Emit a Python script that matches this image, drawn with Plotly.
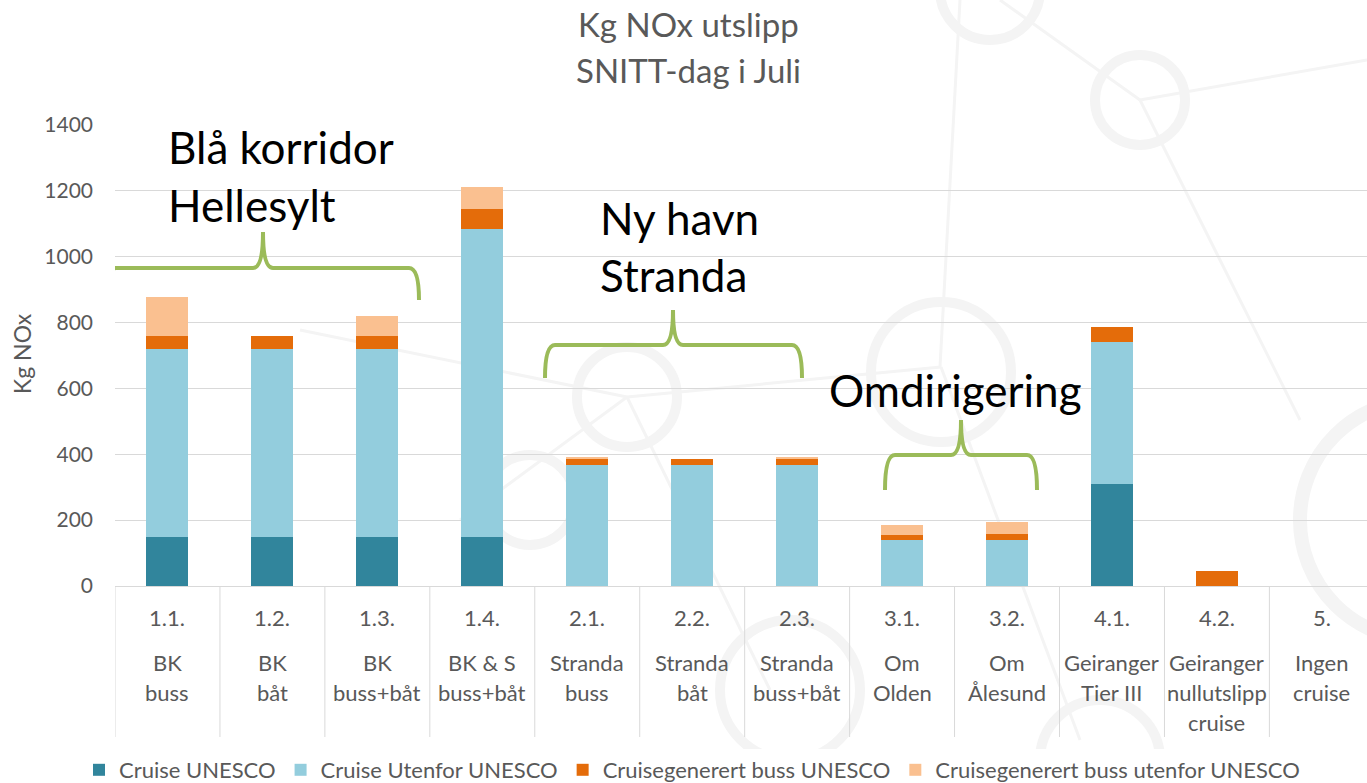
import plotly.graph_objects as go

codes = ["1.1.", "1.2.", "1.3.", "1.4.", "2.1.", "2.2.", "2.3.", "3.1.", "3.2.", "4.1.", "4.2.", "5."]
names = [["BK", "buss"], ["BK", "båt"], ["BK", "buss+båt"], ["BK & S", "buss+båt"],
         ["Stranda", "buss"], ["Stranda", "båt"], ["Stranda", "buss+båt"],
         ["Om", "Olden"], ["Om", "Ålesund"], ["Geiranger", "Tier III"],
         ["Geiranger", "nullutslipp", "cruise"], ["Ingen", "cruise"]]

cruise_unesco = [150, 150, 150, 150, 0, 0, 0, 0, 0, 310, 0, 0]
cruise_utenfor = [570, 570, 570, 934, 367, 367, 367, 140, 140, 432, 0, 0]
buss_unesco = [40, 40, 40, 61, 18, 18, 18, 16, 18, 44, 45, 0]
buss_utenfor = [117, 0, 60, 67, 7, 0, 7, 29, 37, 0, 0, 0]

series = [
    ("Cruise UNESCO", cruise_unesco, "#31859C"),
    ("Cruise Utenfor UNESCO", cruise_utenfor, "#93CDDD"),
    ("Cruisegenerert buss UNESCO", buss_unesco, "#E46C0A"),
    ("Cruisegenerert buss utenfor UNESCO", buss_utenfor, "#FAC090"),
]

FONT = "Lato"
GREY = "#595959"
W, H = 1367, 783
# plot area in screen pixels
SL, ST, SB, SR = 115, 125, 586, 1367
L, T = SL, ST
PLOT_W = SR - SL
PLOT_H = SB - ST
B = H - T - PLOT_H
R = W - L - PLOT_W
XMAX = 11.43
XSPAN = XMAX + 0.5

def px2x(px):
    return (px - SL) / PLOT_W * XSPAN - 0.5

def py2y(py):
    return (SB - py) / PLOT_H * 1400

def px2p(px):
    return (px - SL) / PLOT_W

def py2p(py):
    return (SB - py) / PLOT_H

x = list(range(len(codes)))
fig = go.Figure()
for name, vals, col in series:
    fig.add_trace(go.Bar(x=x, y=vals, name=name, marker=dict(color=col, line=dict(width=0)),
                         width=0.4))

shapes = []
# faint watermark circles / lines
def circ(cx, cy, r, w=10):
    shapes.append(dict(type="circle", xref="paper", yref="paper", layer="below",
                       x0=px2p(cx - r), x1=px2p(cx + r), y0=py2p(cy + r), y1=py2p(cy - r),
                       line=dict(color="#f4f4f4", width=w)))

def wline(xa, ya, xb, yb, w=3):
    shapes.append(dict(type="line", xref="paper", yref="paper", layer="below",
                       x0=px2p(xa), x1=px2p(xb), y0=py2p(ya), y1=py2p(yb),
                       line=dict(color="#f4f4f4", width=w)))

wline(1000, 0, 1140, 100); wline(1140, 100, 1300, 420); wline(1140, 100, 1367, 60)
wline(627, 397, 941, 367); wline(941, 367, 1080, 740); wline(627, 397, 770, 690)
wline(460, 520, 627, 397); wline(300, 330, 627, 397); wline(940, 367, 960, 0)
circ(990, -10, 50); circ(1140, 100, 45); circ(627, 397, 50); circ(941, 372, 70)
circ(1420, 520, 120, 14); circ(790, 690, 70); circ(1100, 760, 60); circ(530, 500, 45)

# category separators below the axis
for i in range(len(codes) + 1):
    xs = i - 0.5
    shapes.append(dict(type="line", xref="x", yref="paper", x0=xs, x1=xs, y0=0,
                       y1=py2p(737), line=dict(color="#d9d9d9", width=1)))

# green braces
def brace(xl, xc, xr, ybot, ytop, ypk, d=10):
    X = px2x; Y = py2y
    p = (f"M {X(xl)},{Y(ybot)} Q {X(xl)},{Y(ytop)} {X(xl + d)},{Y(ytop)} "
         f"L {X(xc - d)},{Y(ytop)} Q {X(xc)},{Y(ytop)} {X(xc)},{Y(ypk)} "
         f"Q {X(xc)},{Y(ytop)} {X(xc + d)},{Y(ytop)} "
         f"L {X(xr - d)},{Y(ytop)} Q {X(xr)},{Y(ytop)} {X(xr)},{Y(ybot)}")
    shapes.append(dict(type="path", xref="x", yref="y", path=p,
                       line=dict(color="#9BBB59", width=4)))

brace(106, 263, 419, 300, 268, 232)
brace(545, 673, 802, 378, 345, 310)
brace(885, 961, 1037, 490, 455, 420)

CAT = 22
annotations = []
for i, (c, nm) in enumerate(zip(codes, names)):
    annotations.append(dict(x=i, y=py2p(617), xref="x", yref="paper", text=c,
                            showarrow=False, font=dict(family=FONT, size=CAT, color=GREY),
                            yanchor="middle"))
    for j, line in enumerate(nm):
        annotations.append(dict(x=i, y=py2p(662 + 30 * j), xref="x", yref="paper",
                                text=line, showarrow=False,
                                font=dict(family=FONT, size=CAT, color=GREY), yanchor="middle"))

# title
for txt, yy in [("Kg NOx utslipp", 24), ("SNITT-dag i Juli", 70)]:
    annotations.append(dict(x=px2p(688), y=py2p(yy), xref="paper", yref="paper", text=txt,
                            showarrow=False, yanchor="middle", borderpad=0,
                            font=dict(family=FONT, size=33, color=GREY)))

# y-axis title
annotations.append(dict(x=px2p(22), y=py2p(354), xref="paper", yref="paper", text="Kg NOx",
                        showarrow=False, textangle=-90, xanchor="center", yanchor="middle",
                        borderpad=0, font=dict(family=FONT, size=23, color=GREY)))

# callouts
def callout(text, xl, yc, size=44):
    annotations.append(dict(x=px2p(xl), y=py2p(yc), xref="paper", yref="paper", text=text,
                            showarrow=False, xanchor="left", yanchor="middle",
                            font=dict(family=FONT, size=size, color="black")))

callout("Blå korridor", 166, 147)
callout("Hellesylt", 166, 205)
callout("Ny havn", 598, 218)
callout("Stranda", 598, 275)
callout("Omdirigering", 827, 390)

fig.update_layout(
    barmode="stack",
    width=W, height=H,
    margin=dict(l=L, r=R, t=T, b=B, autoexpand=False),
    paper_bgcolor="white", plot_bgcolor="rgba(0,0,0,0)",
    font=dict(family=FONT, color=GREY),
    shapes=shapes, annotations=annotations,
    showlegend=True,
    legend=dict(orientation="h", traceorder="normal", xref="container",
                x=692 / W, xanchor="center",
                yref="container", y=(H - 770) / H, yanchor="middle",
                font=dict(family=FONT, size=22, color=GREY), itemwidth=30),
    xaxis=dict(range=[-0.5, XMAX], showticklabels=False, showgrid=False, zeroline=False,
               showline=False, fixedrange=True),
    yaxis=dict(range=[0, 1400], tickvals=[0, 200, 400, 600, 800, 1000, 1200, 1400],
               showgrid=True, gridcolor="#d9d9d9", gridwidth=1, zeroline=True,
               zerolinecolor="#d9d9d9", zerolinewidth=1, ticklabelstandoff=21,
               tickfont=dict(family=FONT, size=21, color=GREY), ticks="", ticklen=0),
)

fig.write_html("out.html", config={"displayModeBar": False},
               post_script="document.body.style.margin='0';")
